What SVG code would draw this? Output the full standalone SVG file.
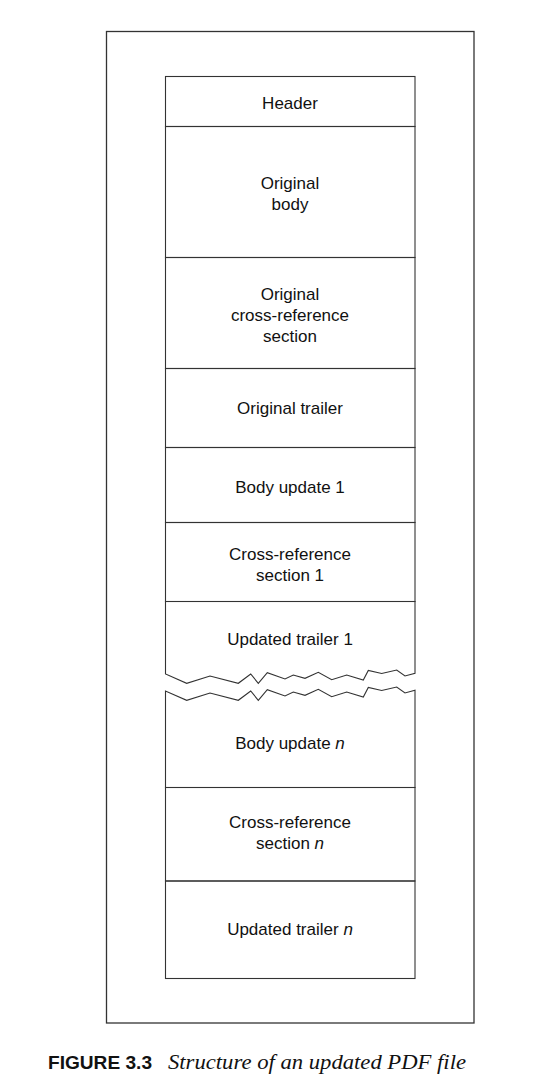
<svg xmlns="http://www.w3.org/2000/svg" width="548" height="1091" viewBox="0 0 548 1091">
<style>
.box{fill:none;stroke:#333;stroke-width:1.1;stroke-linejoin:miter}
.outer{fill:none;stroke:#333;stroke-width:1.3}
.t{font-family:"Liberation Sans",Arial,sans-serif;font-size:17px;fill:#111;text-anchor:middle}
.cap{font-family:"Liberation Sans",Arial,sans-serif;font-size:18.5px;font-weight:bold;fill:#111}
.capi{font-family:"Liberation Serif","Times New Roman",serif;font-size:21px;font-style:italic;fill:#111}
</style>
<rect width="548" height="1091" fill="#fff"/>
<g id="file">
<rect class="outer" x="106.5" y="31.5" width="367.5" height="991.5"/>
</g>
<g id="header">
<rect class="box" x="165.5" y="76.5" width="249.5" height="50"/>
<text class="t" x="290" y="109">Header</text>
</g>
<g id="original-body">
<rect class="box" x="165.5" y="126.5" width="249.5" height="131"/>
<text class="t" x="290" y="189">Original</text>
<text class="t" x="290" y="210">body</text>
</g>
<g id="original-xref">
<rect class="box" x="165.5" y="257.5" width="249.5" height="111"/>
<text class="t" x="290" y="300">Original</text>
<text class="t" x="290" y="321">cross-reference</text>
<text class="t" x="290" y="342">section</text>
</g>
<g id="original-trailer">
<rect class="box" x="165.5" y="368.5" width="249.5" height="79"/>
<text class="t" x="290" y="414">Original trailer</text>
</g>
<g id="body-update-1">
<rect class="box" x="165.5" y="447.5" width="249.5" height="75"/>
<text class="t" x="290" y="493">Body update 1</text>
</g>
<g id="xref-1">
<rect class="box" x="165.5" y="522.5" width="249.5" height="79"/>
<text class="t" x="290" y="560">Cross-reference</text>
<text class="t" x="290" y="581">section 1</text>
</g>
<g id="updated-trailer-1">
<path class="box" d="M165.5,601.5 V674 L186.7,683.3 L210,676 L238.3,683.3 L250.7,674 L258.3,683.3 L267.3,672.7 L285,679 L293.3,675 L305,678.3 L318.3,672.3 L331.7,679.7 L346.7,675 L363.3,680 L368.3,670.5 L381.7,673.5 L396.7,670 L405,676 L415,673.3 V601.5 Z"/>
<text class="t" x="290" y="645">Updated trailer 1</text>
</g>
<g id="body-update-n">
<path class="box" d="M165.5,787.5 V691 L186.7,700.3 L210,693 L238.3,700.3 L250.7,691 L258.3,700.3 L267.3,689.7 L285,696 L293.3,692 L305,695.3 L318.3,689.3 L331.7,696.7 L346.7,692 L363.3,697 L368.3,687.5 L381.7,690.5 L396.7,687 L405,693 L415,690.3 V787.5 Z"/>
<text class="t" x="290" y="749">Body update <tspan font-style="italic">n</tspan></text>
</g>
<g id="xref-n">
<rect class="box" x="165.5" y="787.5" width="249.5" height="93.5"/>
<text class="t" x="290" y="828">Cross-reference</text>
<text class="t" x="290" y="849">section <tspan font-style="italic">n</tspan></text>
</g>
<g id="updated-trailer-n">
<rect class="box" x="165.5" y="881" width="249.5" height="97.5"/>
<text class="t" x="290" y="935">Updated trailer <tspan font-style="italic">n</tspan></text>
</g>
<g id="connectors"></g>
<g id="caption">
<text class="cap" x="48" y="1069" textLength="104" lengthAdjust="spacingAndGlyphs">FIGURE 3.3</text>
<text class="capi" x="168" y="1069" textLength="298" lengthAdjust="spacingAndGlyphs">Structure of an updated PDF file</text>
</g>
</svg>
